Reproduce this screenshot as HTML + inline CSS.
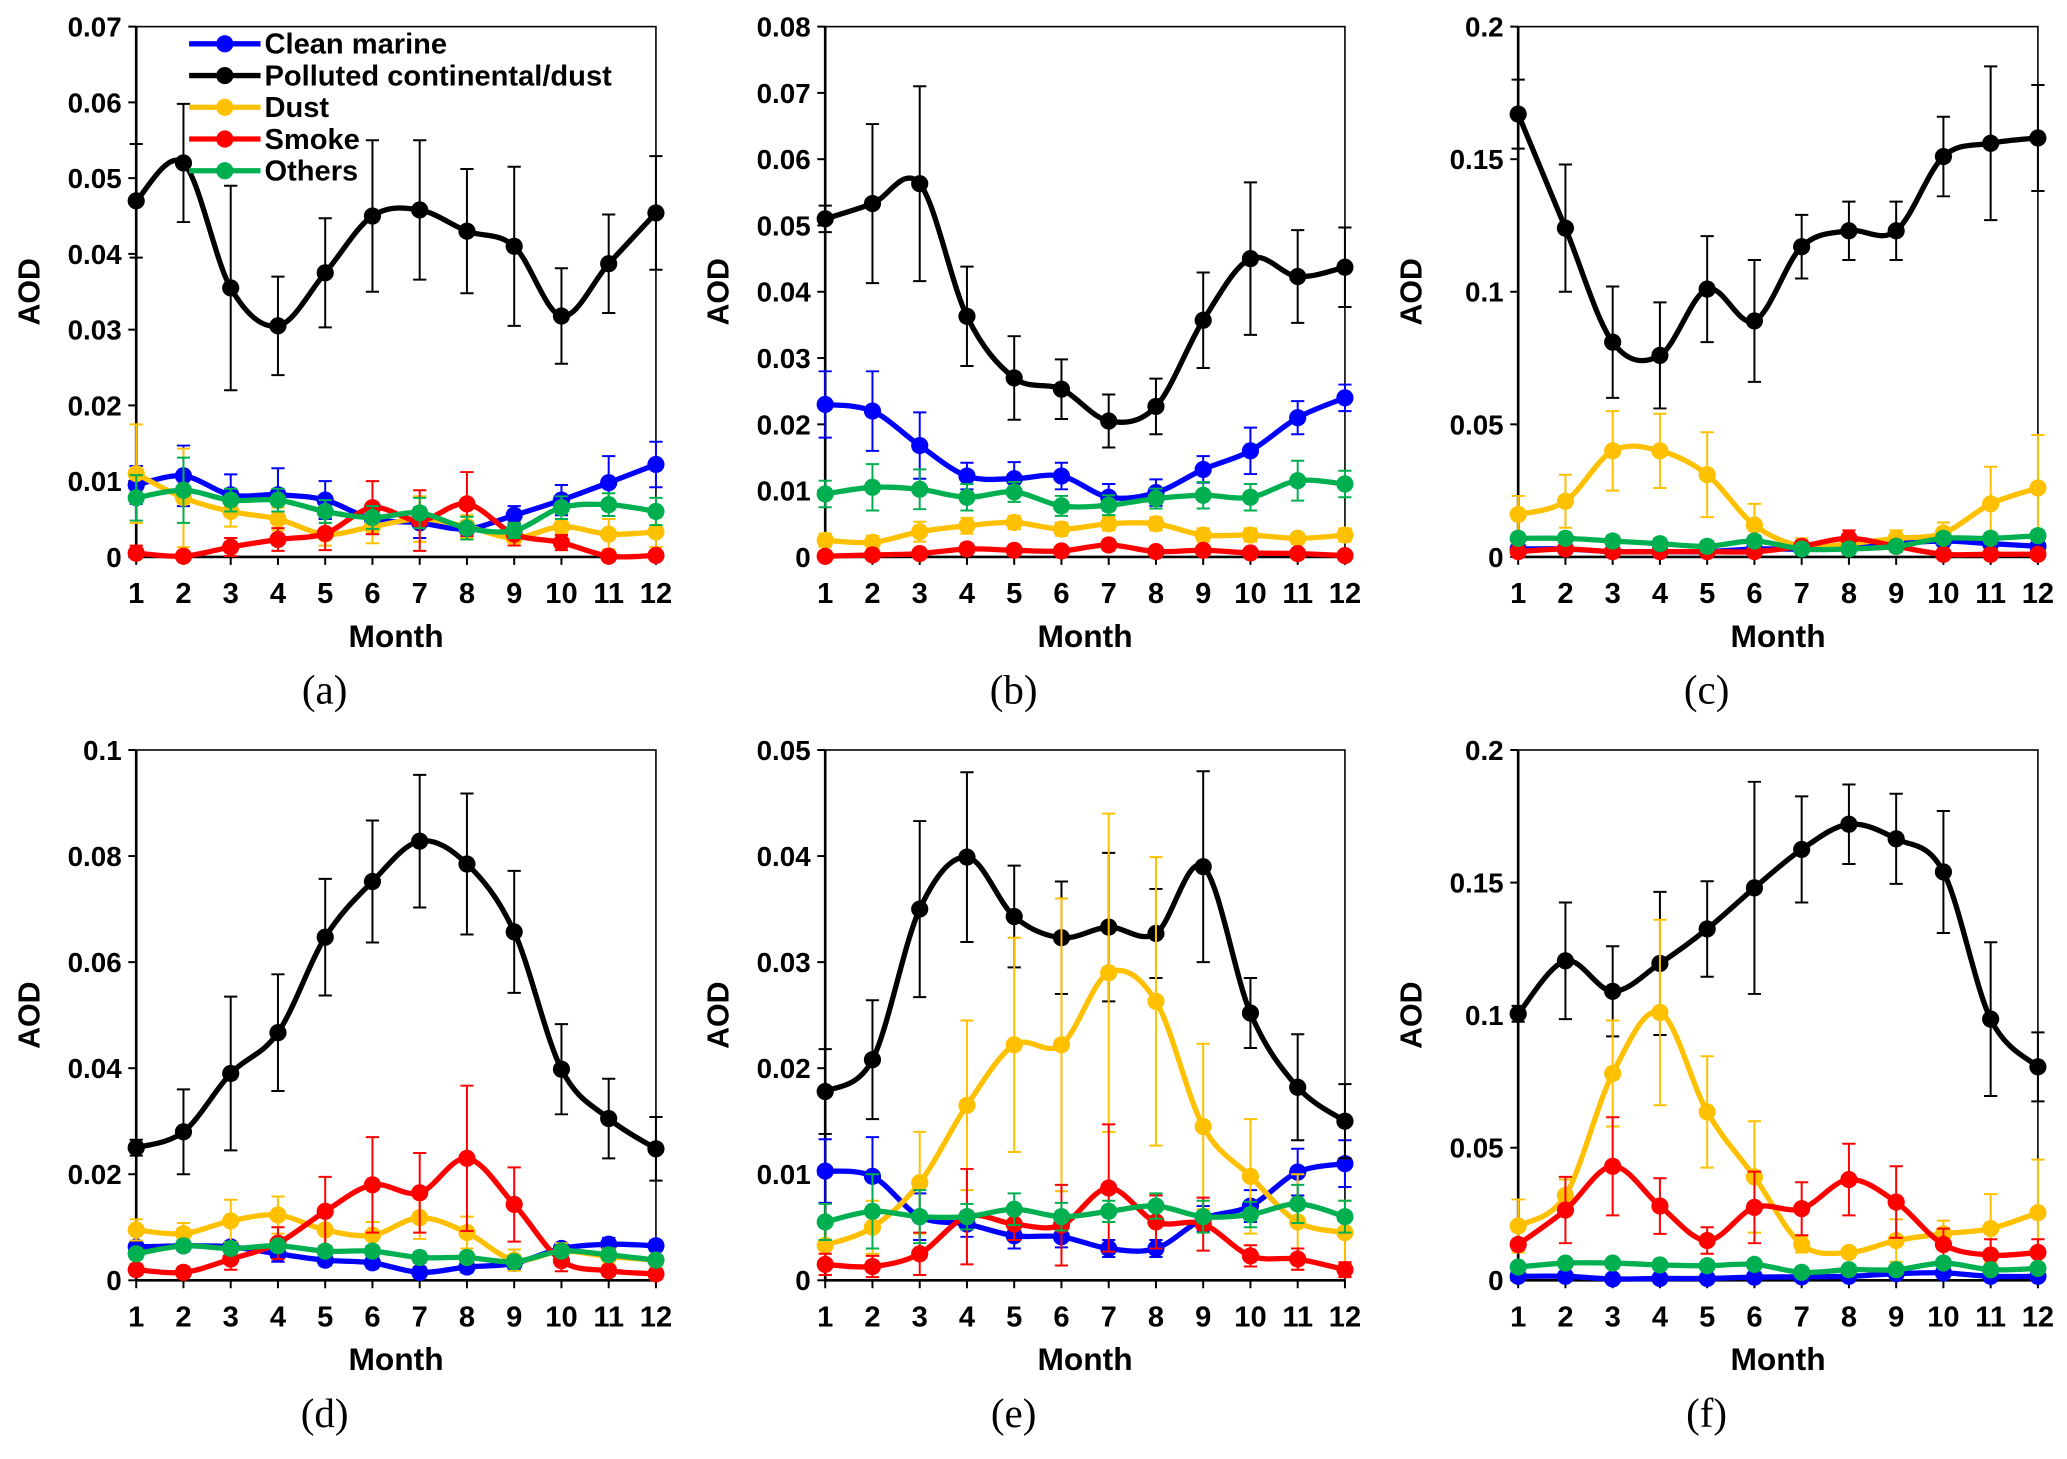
<!DOCTYPE html>
<html><head><meta charset="utf-8"><style>
html,body{margin:0;padding:0;background:#fff;}
svg{display:block;}
text{font-family:"Liberation Sans",Arial,sans-serif;font-weight:bold;fill:#000;}
</style></head><body>
<svg id="fig" width="2067" height="1459" viewBox="0 0 1563 1103"></svg>
<script>
const months = [1,2,3,4,5,6,7,8,9,10,11,12];
const seriesNames = ["Clean marine","Polluted continental/dust","Dust","Smoke","Others"];
const seriesColors = ["#0000ff","#000000","#ffc000","#ff0000","#00b050"];
const panelLabels = ["(a)","(b)","(c)","(d)","(e)","(f)"];
const yMaxes = [0.07,0.08,0.2,0.1,0.05,0.2];
const yStepVals = [0.01,0.01,0.05,0.02,0.01,0.05];
// Panel a
const aBlue=[0.0095,0.0107,0.0082,0.0082,0.0075,0.005,0.0045,0.0037,0.0055,0.0075,0.0098,0.0122];
const aBlueE=[0.0025,0.004,0.0027,0.0035,0.0025,0.002,0.002,0.001,0.0012,0.002,0.0035,0.003];
const aBlack=[0.047,0.052,0.0355,0.0305,0.0375,0.045,0.0458,0.043,0.041,0.0318,0.0387,0.0454];
const aBlackE=[0.0075,0.0078,0.0135,0.0065,0.0072,0.01,0.0092,0.0082,0.0105,0.0063,0.0065,0.0075];
const aYel=[0.011,0.0078,0.006,0.005,0.003,0.004,0.005,0.004,0.0025,0.004,0.003,0.0033];
const aYelE=[0.0065,0.0065,0.002,0.0015,0.0015,0.0022,0.003,0.0015,0.001,0.001,0.002,0.002];
const aRed=[0.0005,0.0001,0.0013,0.0023,0.0031,0.0065,0.0048,0.007,0.003,0.0019,0.0001,0.0002];
const aRedE=[0.001,0.0005,0.0012,0.0015,0.0022,0.0035,0.004,0.0042,0.0015,0.001,0.0005,0.0005];
const aGrn=[0.0078,0.0088,0.0075,0.0075,0.006,0.0052,0.0058,0.0038,0.0035,0.0065,0.0069,0.006];
const aGrnE=[0.003,0.0043,0.0015,0.0015,0.0015,0.0015,0.002,0.0015,0.001,0.0015,0.0015,0.0018];
// Panel b
const bBlue=[0.023,0.022,0.0168,0.0122,0.0118,0.0122,0.009,0.0097,0.0132,0.016,0.021,0.024];
const bBlueE=[0.005,0.006,0.005,0.002,0.0025,0.002,0.002,0.002,0.002,0.0035,0.0025,0.002];
const bBlack=[0.051,0.0533,0.0563,0.0363,0.027,0.0253,0.0205,0.0227,0.0357,0.045,0.0423,0.0437];
const bBlackE=[0.002,0.012,0.0147,0.0075,0.0063,0.0045,0.004,0.0042,0.0072,0.0115,0.007,0.006];
const bYel=[0.0025,0.0022,0.0038,0.0047,0.0052,0.0042,0.005,0.005,0.0033,0.0033,0.0028,0.0033];
const bYelE=[0.001,0.001,0.0015,0.0012,0.001,0.001,0.001,0.001,0.001,0.001,0.0008,0.001];
const bRed=[0.0001,0.0003,0.0005,0.0012,0.001,0.0009,0.0018,0.0008,0.001,0.0006,0.0005,0.0002];
const bRedE=[0.0005,0.0005,0.0005,0.0008,0.0005,0.0005,0.0008,0.0005,0.0005,0.0005,0.0005,0.0005];
const bGrn=[0.0095,0.0105,0.0102,0.009,0.0098,0.0077,0.0078,0.0088,0.0093,0.009,0.0115,0.011];
const bGrnE=[0.002,0.0035,0.003,0.002,0.0015,0.0015,0.0015,0.0015,0.002,0.002,0.003,0.002];
// Panel c
const cBlue=[0.003,0.003,0.002,0.002,0.002,0.003,0.003,0.004,0.005,0.006,0.005,0.004];
const cBlueE=[0.001,0.001,0.001,0.001,0.001,0.001,0.001,0.001,0.001,0.001,0.001,0.001];
const cBlack=[0.167,0.124,0.081,0.076,0.101,0.089,0.117,0.123,0.123,0.151,0.156,0.158];
const cBlackE=[0.013,0.024,0.021,0.02,0.02,0.023,0.012,0.011,0.011,0.015,0.029,0.02];
const cYel=[0.016,0.021,0.04,0.04,0.031,0.012,0.004,0.005,0.007,0.009,0.02,0.026];
const cYelE=[0.007,0.01,0.015,0.014,0.016,0.008,0.003,0.003,0.003,0.004,0.014,0.02];
const cRed=[0.002,0.003,0.002,0.002,0.002,0.002,0.004,0.007,0.004,0.001,0.001,0.001];
const cRedE=[0.001,0.001,0.001,0.001,0.001,0.001,0.002,0.003,0.002,0.001,0.001,0.001];
const cGrn=[0.007,0.007,0.006,0.005,0.004,0.006,0.003,0.003,0.004,0.007,0.007,0.008];
const cGrnE=[0.002,0.002,0.002,0.002,0.002,0.002,0.002,0.002,0.002,0.002,0.002,0.002];
// Panel d
const dBlue=[0.0063,0.0065,0.0063,0.005,0.0038,0.0033,0.0015,0.0025,0.0032,0.006,0.0068,0.0065];
const dBlueE=[0.001,0.001,0.001,0.0015,0.001,0.001,0.001,0.001,0.001,0.001,0.0012,0.001];
const dBlack=[0.025,0.028,0.039,0.0467,0.0647,0.0752,0.0828,0.0785,0.0657,0.0398,0.0305,0.0248];
const dBlackE=[0.0015,0.008,0.0145,0.011,0.011,0.0115,0.0125,0.0133,0.0115,0.0085,0.0075,0.006];
const dYel=[0.0095,0.0088,0.0112,0.0123,0.0095,0.0085,0.0118,0.009,0.0038,0.0055,0.0045,0.0038];
const dYelE=[0.002,0.002,0.004,0.0035,0.003,0.0025,0.004,0.003,0.002,0.0015,0.0015,0.001];
const dRed=[0.002,0.0015,0.004,0.007,0.013,0.018,0.0165,0.023,0.0143,0.0037,0.0018,0.0012];
const dRedE=[0.001,0.001,0.002,0.003,0.0065,0.009,0.0075,0.0137,0.007,0.002,0.001,0.001];
const dGrn=[0.005,0.0065,0.006,0.0065,0.0055,0.0055,0.0043,0.0043,0.0035,0.0055,0.0048,0.0038];
const dGrnE=[0.001,0.001,0.001,0.001,0.001,0.001,0.001,0.001,0.001,0.001,0.001,0.001];
// Panel e
const eBlue=[0.0103,0.0098,0.006,0.0053,0.0042,0.0041,0.003,0.003,0.0058,0.007,0.0102,0.011];
const eBlueE=[0.003,0.0037,0.0022,0.0012,0.0012,0.001,0.0008,0.0008,0.0012,0.0015,0.0022,0.0022];
const eBlack=[0.0178,0.0208,0.035,0.0399,0.0343,0.0323,0.0333,0.0327,0.039,0.0252,0.0182,0.015];
const eBlackE=[0.004,0.0056,0.0083,0.008,0.0048,0.0053,0.007,0.0042,0.009,0.0033,0.005,0.0035];
const eYel=[0.0033,0.005,0.0092,0.0165,0.0222,0.0222,0.029,0.0263,0.0145,0.0098,0.0055,0.0045];
const eYelE=[0.002,0.0025,0.0048,0.008,0.0101,0.0138,0.015,0.0136,0.0078,0.0054,0.0045,0.003];
const eRed=[0.0015,0.0013,0.0025,0.006,0.0053,0.0052,0.0087,0.0055,0.0053,0.0023,0.002,0.001];
const eRedE=[0.001,0.001,0.002,0.0045,0.0015,0.0038,0.006,0.0025,0.0025,0.001,0.001,0.0007];
const eGrn=[0.0055,0.0065,0.006,0.006,0.0067,0.006,0.0065,0.007,0.006,0.0062,0.0072,0.006];
const eGrnE=[0.0017,0.0035,0.0025,0.0012,0.0015,0.0013,0.001,0.0012,0.0015,0.0012,0.0018,0.0015];
// Panel f
const fBlue=[0.0015,0.0015,0.0005,0.0007,0.0007,0.0012,0.0013,0.0015,0.0025,0.0028,0.0015,0.0015];
const fBlueE=[0.001,0.001,0.001,0.001,0.001,0.001,0.001,0.001,0.001,0.001,0.001,0.001];
const fBlack=[0.1005,0.1205,0.109,0.1195,0.1325,0.148,0.1625,0.172,0.1665,0.154,0.0985,0.0805];
const fBlackE=[0.003,0.022,0.017,0.027,0.018,0.04,0.02,0.015,0.017,0.023,0.029,0.013];
const fYel=[0.0205,0.032,0.078,0.101,0.0635,0.039,0.0135,0.0105,0.015,0.0175,0.0195,0.0255];
const fYelE=[0.01,0.006,0.02,0.035,0.021,0.021,0.003,0.001,0.008,0.005,0.013,0.02];
const fRed=[0.0135,0.0265,0.043,0.028,0.015,0.0275,0.027,0.038,0.0295,0.0135,0.0095,0.0105];
const fRedE=[0.002,0.0125,0.0185,0.0105,0.005,0.0135,0.01,0.0135,0.0135,0.006,0.006,0.005];
const fGrn=[0.005,0.0065,0.0065,0.0058,0.0055,0.006,0.003,0.004,0.004,0.0065,0.004,0.0045];
const fGrnE=[0.001,0.001,0.001,0.001,0.001,0.001,0.001,0.001,0.001,0.001,0.001,0.001];

const panelSeries = [
 [[aBlue,aBlueE],[aBlack,aBlackE],[aYel,aYelE],[aRed,aRedE],[aGrn,aGrnE]],
 [[bBlue,bBlueE],[bBlack,bBlackE],[bYel,bYelE],[bRed,bRedE],[bGrn,bGrnE]],
 [[cBlue,cBlueE],[cBlack,cBlackE],[cYel,cYelE],[cRed,cRedE],[cGrn,cGrnE]],
 [[dBlue,dBlueE],[dBlack,dBlackE],[dYel,dYelE],[dRed,dRedE],[dGrn,dGrnE]],
 [[eBlue,eBlueE],[eBlack,eBlackE],[eYel,eYelE],[eRed,eRedE],[eGrn,eGrnE]],
 [[fBlue,fBlueE],[fBlack,fBlackE],[fYel,fYelE],[fRed,fRedE],[fGrn,fGrnE]]
];

const NS="http://www.w3.org/2000/svg";
const svg=document.getElementById('fig');
function mk(tag,attrs,parent){const e=document.createElementNS(NS,tag);for(const k in attrs)e.setAttribute(k,attrs[k]);(parent||svg).appendChild(e);return e;}
const lefts=[103,624,1148];
const tops=[20,567];
const PW=393, PH=401;
function fmt(v){return (+v.toFixed(4)).toString();}
function smoothPath(pts){
  let d=`M${pts[0][0]},${pts[0][1]}`;
  for(let i=0;i<pts.length-1;i++){
    const p0=pts[Math.max(i-1,0)],p1=pts[i],p2=pts[i+1],p3=pts[Math.min(i+2,pts.length-1)];
    const c1x=p1[0]+(p2[0]-p0[0])/6,c1y=p1[1]+(p2[1]-p0[1])/6;
    const c2x=p2[0]-(p3[0]-p1[0])/6,c2y=p2[1]-(p3[1]-p1[1])/6;
    d+=` C${c1x},${c1y} ${c2x},${c2y} ${p2[0]},${p2[1]}`;
  }
  return d;
}
for(let p=0;p<6;p++){
  const L=lefts[p%3], T=tops[Math.floor(p/3)], B=T+PH, R=L+PW;
  const ymax=yMaxes[p], step=yStepVals[p];
  const xS=m=>L+(m-1)*PW/11;
  const yS=v=>B-v/ymax*PH;
  const g=mk('g',{});
  
  
  const frame=mk('rect',{x:L,y:T,width:PW,height:PH,fill:'none',stroke:'#000','stroke-width':1.2},g);
  
  
  const yax=mk('line',{x1:L,y1:T,x2:L,y2:B,stroke:'#000','stroke-width':2},g);
  
  
  const xax=mk('line',{x1:L,y1:B,x2:R,y2:B,stroke:'#000','stroke-width':2},g);
  
  
  const n=Math.round(ymax/step);
  for(let i=0;i<=n;i++){
    const v=i*step,y=yS(v);
    mk('line',{x1:L-6,y1:y,x2:L,y2:y,stroke:'#000','stroke-width':1.5},g);
    const t=mk('text',{x:L-11,y:y+7.5,'text-anchor':'end','font-size':21},g);
    t.textContent=fmt(v);
    
    
  }
  months.forEach(m=>{
    const x=xS(m);
    mk('line',{x1:x,y1:B,x2:x,y2:B+6,stroke:'#000','stroke-width':1.5},g);
    const t=mk('text',{x:x,y:B+35,'text-anchor':'middle','font-size':22},g);
    t.textContent=m;
    
    
  });
  const yt=mk('text',{x:0,y:0,'text-anchor':'middle','font-size':23,transform:`translate(${L-73},${T+PH/2}) rotate(-90)`},g);
  yt.textContent='AOD';
  
  
  const xt=mk('text',{x:L+PW/2,y:B+68,'text-anchor':'middle','font-size':24},g);
  xt.textContent='Month';
  
  
  const pl=mk('text',{x:L+PW/2-54,y:B+111,'text-anchor':'middle','font-size':31,style:'font-family:"Liberation Serif",serif;font-weight:normal'},g);
  pl.textContent=panelLabels[p];
  
  
  panelSeries[p].forEach((s,si)=>{
    const vals=s[0],errs=s[1],col=seriesColors[si];
    const sg=mk('g',{},g);
    
    
    vals.forEach((v,i)=>{
      const x=xS(months[i]),y1=yS(Math.min(v+errs[i],ymax)),y2=yS(Math.max(v-errs[i],0));
      const eb=mk('path',{d:`M${x},${y1}V${y2}M${x-5},${y1}H${x+5}M${x-5},${y2}H${x+5}`,stroke:col,'stroke-width':1.5,fill:'none'},sg);
      
      
    });
    const pts=vals.map((v,i)=>[xS(months[i]),yS(v)]);
    const ln=mk('path',{d:smoothPath(pts),stroke:col,'stroke-width':4,fill:'none','stroke-linejoin':'round'},sg);
    
    
    pts.forEach(pt=>{
      const c=mk('circle',{cx:pt[0],cy:pt[1],r:6.5,fill:col},sg);
      
      
    });
  });
  if(p===0){
    const lg=mk('g',{},g);
    
    
    seriesNames.forEach((nm,i)=>{
      const y=33+i*24;
      const e=mk('g',{},lg);
      
      
      mk('line',{x1:143,y1:y,x2:197,y2:y,stroke:seriesColors[i],'stroke-width':4},e);
      mk('circle',{cx:170,cy:y,r:6.5,fill:seriesColors[i]},e);
      const t=mk('text',{x:200,y:y+7.5,'font-size':22},e);
      t.textContent=nm;
    });
  }
}
</script>
</body></html>
